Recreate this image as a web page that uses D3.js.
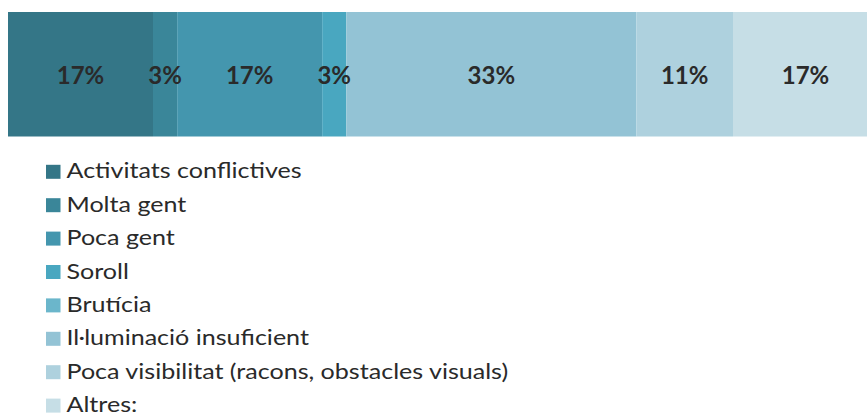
<!DOCTYPE html>
<html><head><meta charset="utf-8">
<script src="https://cdn.jsdelivr.net/npm/d3@7"></script>
<style>html,body{margin:0;padding:0;background:#fff;overflow:hidden}</style>
</head><body>
<svg id="chart" width="867" height="414"></svg>
<script>
const categories = ["Activitats conflictives","Molta gent","Poca gent","Soroll","Brutícia","Il·luminació insuficient","Poca visibilitat (racons, obstacles visuals)","Altres:"];
const values = [6,1,6,1,0,12,4,6];
const colors = ["#347687","#3a8699","#4496ae","#49a7c0","#6bb6cb","#93c3d5","#aed1de","#c6dee6"];

const svg = d3.select("#chart");
const total = d3.sum(values);
const x = d3.scaleLinear().domain([0,total]).range([8,878]);
let acc = 0;
const segs = values.map((v,i)=>{const s={i,v,x0:acc,x1:acc+v};acc+=v;return s;});

const barTop = 12, barH = 124.5;
svg.append("g").selectAll("rect").data(segs).join("rect")
  .attr("x",d=>x(d.x0)).attr("y",barTop)
  .attr("width",d=>x(d.x1)-x(d.x0)).attr("height",barH)
  .attr("fill",d=>colors[d.i]);

svg.append("g").selectAll("text").data(segs.filter(d=>d.v>0)).join("text")
  .attr("x",d=>(x(d.x0)+x(d.x1))/2).attr("y",84)
  .attr("text-anchor","middle")
  .attr("font-family","Lato, sans-serif").attr("font-weight","bold").attr("font-size",24)
  .attr("fill","#2a2a2a")
  .text(d=>Math.round(d.v/total*100)+"%");

const lg = svg.append("g");
const item = lg.selectAll("g").data(categories).join("g")
  .attr("transform",(d,i)=>`translate(0,${178.3+i*33.4})`);
item.append("rect").attr("x",46).attr("y",-13.5).attr("width",14.5).attr("height",14)
  .attr("fill",(d,i)=>colors[i]);
item.append("text").attr("transform","translate(66.5,0) scale(1.14,1)")
  .attr("x",0).attr("y",0)
  .attr("font-family","Lato, sans-serif").attr("font-size",22).attr("fill","#2a2a2a")
  .text(d=>d);
</script>
</body></html>
